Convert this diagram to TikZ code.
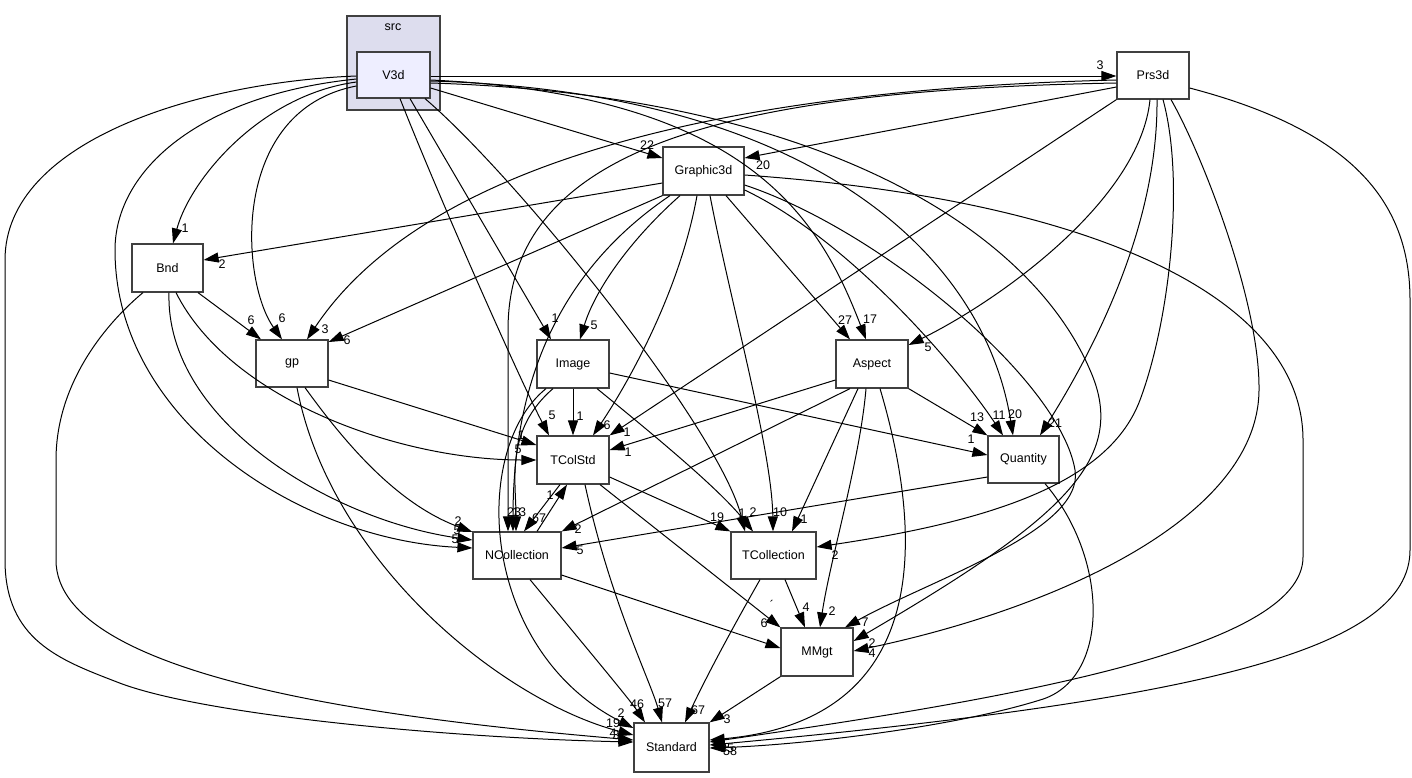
\documentclass[tikz,border=0pt]{standalone}
\usepackage{fontspec}
\setmainfont{Liberation Sans}
\usetikzlibrary{arrows.meta}
\definecolor{boxgray}{HTML}{404040}
\definecolor{clusterfill}{HTML}{DDDDEE}
\definecolor{v3dfill}{HTML}{EEEEFF}
\begin{document}
\begin{tikzpicture}[x=1pt,y=-1pt,
  box/.style={draw=boxgray, line width=1.2pt, fill=white, inner sep=0pt, font=\fontsize{12.5}{14}\selectfont},
  cluster/.style={draw=boxgray, line width=1.2pt, fill=clusterfill, inner sep=0pt},
  e/.style={draw=black, line width=1pt, -{Triangle[length=15pt,width=10pt]}},
  lab/.style={inner sep=0pt, font=\fontsize{12.5}{14}\selectfont}]
\useasboundingbox[fill=white] (0,0) rectangle (1412,777);

% cluster and nodes
\node[cluster, minimum width=93pt, minimum height=94pt] (src) at (393.5,63) {};
\node[lab] (srclab) at (393,27) {src};
\node[box, fill=v3dfill, minimum width=73pt, minimum height=46pt] (V3d) at (393.5,75) {V3d};
\node[box, minimum width=72pt, minimum height=47pt] (Prs3d) at (1153,75.5) {Prs3d};
\node[box, minimum width=81pt, minimum height=48pt] (Graphic3d) at (703.5,171) {Graphic3d};
\node[box, minimum width=71pt, minimum height=48pt] (Bnd) at (167.5,268) {Bnd};
\node[box, minimum width=72pt, minimum height=47pt] (gp) at (292,363.5) {gp};
\node[box, minimum width=72pt, minimum height=48pt] (Image) at (573,364) {Image};
\node[box, minimum width=72pt, minimum height=48pt] (Aspect) at (872,364) {Aspect};
\node[box, minimum width=72pt, minimum height=48pt] (TColStd) at (573,460) {TColStd};
\node[box, minimum width=71pt, minimum height=47pt] (Quantity) at (1023.5,459.5) {Quantity};
\node[box, minimum width=88pt, minimum height=47pt] (NCollection) at (517,555.5) {NCollection};
\node[box, minimum width=85pt, minimum height=47pt] (TCollection) at (773.5,555.5) {TCollection};
\node[box, minimum width=72pt, minimum height=48pt] (MMgt) at (817,652) {MMgt};
\node[box, minimum width=75pt, minimum height=49pt] (Standard) at (671.5,747.5) {Standard};

% V3d
\draw[e] (V3d.east |- 0,76) -- (Prs3d.west |- 0,76);
\draw[e] (V3d.east |- 0,88) -- (Graphic3d.west |- 0,158);
\draw[e] (V3d.east |- 0,80) .. controls (750,95) and (820,220) .. (Aspect.north -| 866,0);
\draw[e] (V3d.east |- 0,81) .. controls (820,92) and (985,260) .. (Quantity.north -| 1013,0);
\draw[e] (V3d.east |- 0,83) .. controls (820,95) and (1030,230) .. (1090,370) .. controls (1130,460) and (1060,520) .. (MMgt.east |- 0,641);
\draw[e] (V3d.west |- 0,82) .. controls (260,95) and (190,180) .. (Bnd.north -| 173,0);
\draw[e] (V3d.west |- 0,86) .. controls (230,110) and (240,280) .. (gp.north -| 282,0);
\draw[e] (V3d.west |- 0,79) .. controls (200,95) and (115,170) .. (115,250) .. controls (115,420) and (300,540) .. (NCollection.west |- 0,548);
\draw[e] (V3d.west |- 0,76) .. controls (200,82) and (5,140) .. (5,260) -- (5,560) .. controls (5,640) and (60,660) .. (117,682) .. controls (200,715) and (450,738) .. (Standard.west |- 0,742);
\draw[e] (V3d.south -| 410,0) -- (Image.north -| 551,0);
\draw[e] (V3d.south -| 400,0) .. controls (440,200) and (520,380) .. (TColStd.north -| 549,0);
\draw[e] (V3d.south -| 425,0) .. controls (520,180) and (720,430) .. (TCollection.north -| 745,0);

% Prs3d
\draw[e] (Prs3d.west |- 0,87) -- (Graphic3d.east |- 0,158);
\draw[e] (Prs3d.west |- 0,80) .. controls (700,90) and (420,170) .. (gp.north -| 307,0);
\draw[e] (Prs3d.west |- 0,83) .. controls (720,90) and (508,150) .. (508,330) -- (NCollection.north -| 508,0);
\draw[e] (Prs3d.south west) -- (TColStd.north east);
\draw[e] (Prs3d.south -| 1150,0) .. controls (1140,200) and (1000,300) .. (Aspect.east |- 0,345);
\draw[e] (Prs3d.south -| 1157,0) .. controls (1158,220) and (1100,340) .. (Quantity.north -| 1040,0);
\draw[e] (Prs3d.south -| 1163,0) .. controls (1185,180) and (1170,320) .. (1140,400) .. controls (1110,480) and (1000,520) .. (TCollection.east |- 0,547);
\draw[e] (Prs3d.south -| 1171,0) .. controls (1200,150) and (1260,300) .. (1259,390) .. controls (1258,520) and (1050,610) .. (MMgt.east |- 0,651);
\draw[e] (Prs3d.east |- 0,88) .. controls (1350,130) and (1410,200) .. (1410,300) -- (1410,550) .. controls (1410,650) and (1200,700) .. (Standard.east |- 0,745);

% Graphic3d
\draw[e] (Graphic3d.west |- 0,183) -- (Bnd.east |- 0,260);
\draw[e] (Graphic3d.south west) -- (gp.east |- 0,342);
\draw[e] (Graphic3d.south -| 680,0) .. controls (630,240) and (595,290) .. (Image.north -| 580,0);
\draw[e] (Graphic3d.south -| 697,0) .. controls (680,290) and (630,380) .. (TColStd.north -| 593,0);
\draw[e] (Graphic3d.south -| 670,0) .. controls (560,270) and (513,380) .. (NCollection.north -| 513,0);
\draw[e] (Graphic3d.south -| 710,0) .. controls (730,300) and (772,450) .. (TCollection.north -| 773,0);
\draw[e] (Graphic3d.south -| 726,0) -- (Aspect.north -| 850,0);
\draw[e] (Graphic3d.east |- 0,190) .. controls (850,240) and (960,370) .. (Quantity.north -| 1003,0);
\draw[e] (Graphic3d.east |- 0,185) .. controls (880,230) and (1060,380) .. (1075,470) .. controls (1085,530) and (930,580) .. (MMgt.north -| 845,0);
\draw[e] (Graphic3d.east |- 0,175) .. controls (1100,200) and (1303,300) .. (1303,440) -- (1303,557) .. controls (1303,650) and (1000,700) .. (Standard.east |- 0,742);

% Bnd
\draw[e] (Bnd.south -| 198,0) -- (gp.north -| 261,0);
\draw[e] (Bnd.south -| 169,0) .. controls (165,420) and (330,520) .. (NCollection.west |- 0,540);
\draw[e] (Bnd.south -| 176,0) .. controls (230,400) and (400,460) .. (TColStd.west |- 0,460);
\draw[e] (Bnd.south -| 143,0) .. controls (110,320) and (56,380) .. (56,460) -- (56,560) .. controls (56,680) and (400,720) .. (Standard.west |- 0,740);

% gp
\draw[e] (gp.east |- 0,380) -- (TColStd.west |- 0,445);
\draw[e] (gp.south -| 305,0) .. controls (350,450) and (400,505) .. (NCollection.west |- 0,532);
\draw[e] (gp.south -| 297,0) .. controls (330,560) and (500,700) .. (Standard.west |- 0,735);

% Image
\draw[e] (Image.south) -- (TColStd.north);
\draw[e] (Image.south -| 553,0) .. controls (505,430) and (516,480) .. (NCollection.north -| 516,0);
\draw[e] (Image.south -| 546,0) .. controls (470,450) and (480,650) .. (Standard.west |- 0,728);
\draw[e] (Image.south -| 597,0) .. controls (660,440) and (720,490) .. (TCollection.north -| 753,0);
\draw[e] (Image.east |- 0,373) -- (Quantity.west |- 0,455);

% TColStd
\draw[e] (TColStd.south -| 560,0) -- (NCollection.north -| 524,0);
\draw[e] (NCollection.north -| 537,0) -- (TColStd.south -| 567,0);
\draw[e] (TColStd.east |- 0,477) -- (TCollection.north west);
\draw[e] (TColStd.south -| 600,0) -- (MMgt.north west);
\draw[e] (TColStd.south -| 585,0) .. controls (610,600) and (650,680) .. (Standard.north -| 662,0);

% Aspect
\draw[e] (Aspect.west |- 0,380) -- (TColStd.east |- 0,450);
\draw[e] (Aspect.south -| 850,0) -- (NCollection.north east);
\draw[e] (Aspect.south -| 858,0) -- (TCollection.north -| 792,0);
\draw[e] (Aspect.south -| 866,0) .. controls (860,460) and (830,560) .. (MMgt.north -| 820,0);
\draw[e] (Aspect.south -| 880,0) .. controls (925,540) and (930,720) .. (Standard.east |- 0,740);
\draw[e] (Aspect.south east) -- (Quantity.north west);

% Quantity
\draw[e] (Quantity.west |- 0,477) -- (NCollection.east |- 0,548);
\draw[e] (Quantity.south -| 1045,0) .. controls (1110,560) and (1110,680) .. (1040,700) .. controls (950,728) and (800,745) .. (Standard.east |- 0,748);

% NCollection
\draw[e] (NCollection.east |- 0,575) -- (MMgt.west |- 0,648);
\draw[e] (NCollection.south -| 530,0) .. controls (580,640) and (630,700) .. (Standard.north -| 645,0);

% TCollection
\draw[e] (TCollection.south -| 785,0) -- (MMgt.north -| 805,0);
\draw[e] (TCollection.south -| 760,0) .. controls (720,650) and (700,690) .. (Standard.north -| 685,0);

% MMgt
\draw[e] (MMgt.south west) -- (Standard.north east);

% labels
\node[lab] (l1) at (1100,65) {3};
\node[lab] (l2) at (647,145) {22};
\node[lab] (l3) at (763,165) {20};
\node[lab] (l4) at (185,228) {1};
\node[lab] (l5) at (222,264) {2};
\node[lab] (l6) at (251,320) {6};
\node[lab] (l7) at (282,318) {6};
\node[lab] (l8) at (325,329) {3};
\node[lab] (l9) at (347,340) {6};
\node[lab] (l10) at (555,318) {1};
\node[lab] (l11) at (594,325) {5};
\node[lab] (l12) at (845,320) {27};
\node[lab] (l13) at (870,319) {17};
\node[lab] (l14) at (928,347) {5};
\node[lab] (l15) at (977,417) {13};
\node[lab] (l16) at (999,415) {11};
\node[lab] (l17) at (1015,414) {20};
\node[lab] (l18) at (1055,423) {21};
\node[lab] (l19) at (971,439) {1};
\node[lab] (l20) at (552,415) {5};
\node[lab] (l21) at (580,416) {1};
\node[lab] (l22) at (607,425) {6};
\node[lab] (l23) at (627,432) {1};
\node[lab] (l24) at (628,452) {1};
\node[lab] (l25) at (521,435) {1};
\node[lab] (l26) at (518,449) {5};
\node[lab] (l27) at (514,512) {23};
\node[lab] (l28) at (519,512) {13};
\node[lab] (l29) at (539,518) {67};
\node[lab] (l30) at (550,495) {1};
\node[lab] (l31) at (458,521) {2};
\node[lab] (l32) at (457,530) {5};
\node[lab] (l33) at (455,539) {5};
\node[lab] (l34) at (578,529) {2};
\node[lab] (l35) at (580,550) {5};
\node[lab] (l36) at (717,517) {19};
\node[lab] (l37) at (742,513) {1};
\node[lab] (l38) at (753,512) {2};
\node[lab] (l39) at (780,512) {10};
\node[lab] (l40) at (804,519) {1};
\node[lab] (l41) at (835,555) {2};
\node[lab] (l42) at (772,605) {´};
\node[lab] (l43) at (764,623) {6};
\node[lab] (l44) at (806,607) {4};
\node[lab] (l45) at (832,611) {2};
\node[lab] (l46) at (865,622) {7};
\node[lab] (l47) at (872,643) {2};
\node[lab] (l48) at (872,653) {4};
\node[lab] (l49) at (637,704) {46};
\node[lab] (l50) at (665,703) {57};
\node[lab] (l51) at (698,710) {67};
\node[lab] (l52) at (727,719) {3};
\node[lab] (l53) at (621,713) {2};
\node[lab] (l54) at (613,723) {19};
\node[lab] (l55) at (613,733) {4};
\node[lab] (l56) at (616,735) {3};
\node[lab] (l57) at (727,748) {35};
\node[lab] (l58) at (730,751) {58};
\end{tikzpicture}
\end{document}
